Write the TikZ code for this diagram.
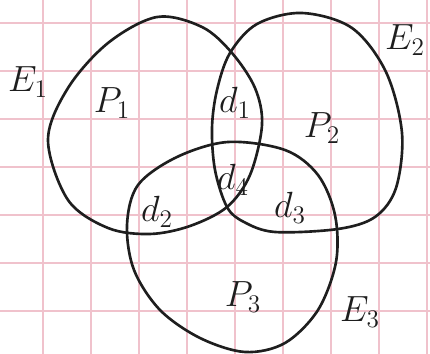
\documentclass[tikz,border=0pt]{standalone}
\usepackage{tikz}
\definecolor{ink}{HTML}{1E1E1E}
\definecolor{gridln}{HTML}{F0C2CC}
\tikzset{
  every node/.style={font=\huge},
  ring/.style={draw=ink,line width=1.5pt,smooth cycle,tension=0.55},
  rule/.style={draw=gridln,line width=0.9pt},
  lab/.style={inner sep=1pt,text=ink},
}

\begin{document}
\begin{tikzpicture}[x=0.02cm,y=-0.02cm]
\useasboundingbox (0,0) rectangle (430,354);
\fill[white] (0,0) rectangle (430,354);
% grid paper
\foreach \gx in {43,91,...,427} \draw[rule] (\gx,0) -- (\gx,354);
\foreach \gy in {23,71,...,311} \draw[rule] (0,\gy) -- (430,\gy);

% E1
\draw[ring] plot coordinates {(48,140) (68,88) (108,43) (157,17) (202,27)
  (232,53) (255,88) (262,125) (250,175) (227,207) (190,226) (150,234)
  (108,228) (68,200)};
% E2
\draw[ring] plot coordinates {(230,53) (257,24) (302,13) (352,28) (386,72)
  (402,133) (396,188) (375,217) (338,229) (275,232) (244,222) (227,207)
  (215,170) (212,128) (217,90)};
% E3
\draw[ring] plot coordinates {(127,225) (138,185) (177,157) (228,142)
  (285,150) (318,175) (335,215) (336,262) (318,310) (285,343) (245,352)
  (200,338) (160,310) (134,270)};

\node[lab] (e1) at (28,82) {$E_1$};
\node[lab] (e2) at (405,40) {$E_2$};
\node[lab] (e3) at (360,312) {$E_3$};
\node[lab] (p1) at (112,103) {$P_1$};
\node[lab] (p2) at (322,128) {$P_2$};
\node[lab] (p3) at (243,297) {$P_3$};
\node[lab] (d1) at (235,103) {$d_1$};
\node[lab] (d4) at (233,180) {$d_4$};
\node[lab] (d2) at (157,212) {$d_2$};
\node[lab] (d3) at (290,208) {$d_3$};
\end{tikzpicture}
\end{document}
